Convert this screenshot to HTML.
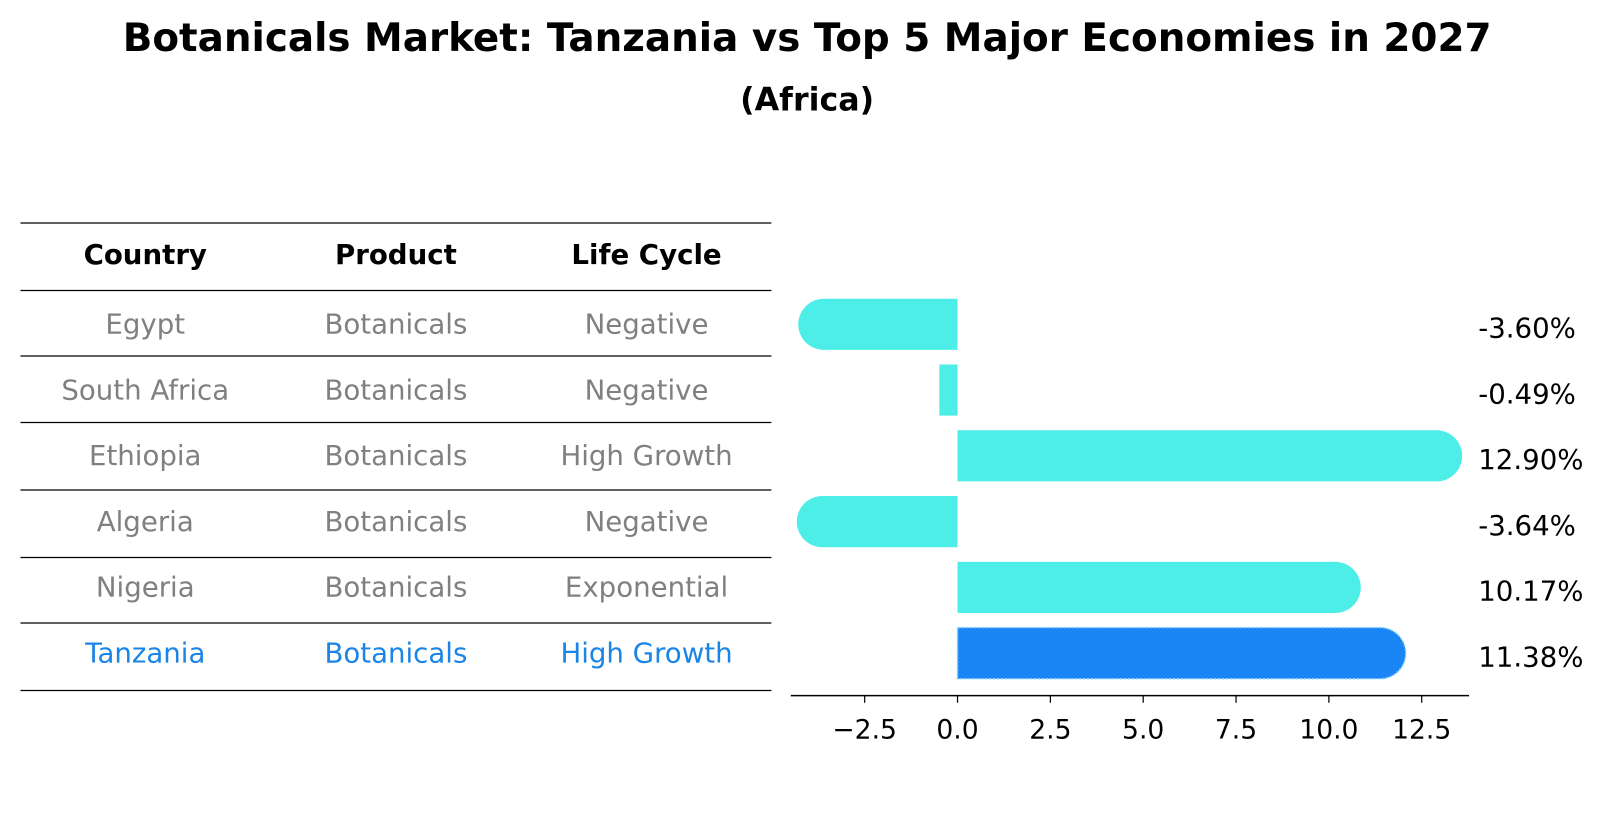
<!DOCTYPE html>
<html><head><meta charset="utf-8"><style>
body{margin:0;background:#fff;}
svg text{font-family:"DejaVu Sans","Liberation Sans",sans-serif;}
</style></head><body>
<svg id="chart" width="1604" height="823" viewBox="0 0 1604 823" xmlns="http://www.w3.org/2000/svg">
<g transform="scale(1.023)">
<text x="789" y="50" text-anchor="middle" font-size="38" font-weight="bold">Botanicals Market: Tanzania vs Top 5 Major Economies in 2027</text>
<text x="789" y="108" text-anchor="middle" font-size="31" font-weight="bold">(Africa)</text>
<g id="table"></g>
<g id="bars"></g>
</g>
</svg>
<script>
const countries=["Egypt","South Africa","Ethiopia","Algeria","Nigeria","Tanzania"];
const products=["Botanicals","Botanicals","Botanicals","Botanicals","Botanicals","Botanicals"];
const lifeCycles=["Negative","Negative","High Growth","Negative","Exponential","High Growth"];
const values=[-3.60,-0.49,12.90,-3.64,10.17,11.38];
const valueLabels=["-3.60%","-0.49%","12.90%","-3.64%","10.17%","11.38%"];
const ticks=[-2.5,0.0,2.5,5.0,7.5,10.0,12.5];
const tickLabels=["\u22122.5","0.0","2.5","5.0","7.5","10.0","12.5"];

const NS="http://www.w3.org/2000/svg";
function mk(tag,attrs,parent,text){const e=document.createElementNS(NS,tag);for(const k in attrs)e.setAttribute(k,attrs[k]);if(text!==undefined)e.textContent=text;parent.appendChild(e);return e;}
const xs=v=>936+v*36.3;
const rowY=i=>317+i*64.3;

const tbl=document.getElementById('table');
const lineYs=[218,284,348,413,479,545,609,675];
lineYs.forEach((y,i)=>{const l=mk('line',{x1:20,x2:754,y1:y,y2:y,stroke:'#000','stroke-width':1.2},tbl);

});
const cols=[142,387,632];
["Country","Product","Life Cycle"].forEach((h,j)=>{const t=mk('text',{x:cols[j],y:258,'text-anchor':'middle','font-size':27,'font-weight':'bold'},tbl,h);

});
countries.forEach((c,i)=>{const col=i===countries.length-1?'#1a85e6':'#808080';
[c,products[i],lifeCycles[i]].forEach((s,j)=>{const t=mk('text',{x:cols[j],y:rowY(i)+9,'text-anchor':'middle','font-size':27,fill:col},tbl,s);

});});

const g=document.getElementById('bars');
const h=50,r=25;
values.forEach((v,i)=>{const y0=rowY(i)-h/2;const x0=xs(0),x1=xs(v);const last=i===values.length-1;
const fill=last?'#1a85f5':'#4deee8';let d;
const w=Math.abs(x1-x0);
if(w>r){const dir=v>=0?1:-1;const xe=x1;
 d=`M${x0},${y0} L${xe},${y0} A${r},${r} 0 0 ${dir>0?1:0} ${xe},${y0+h} L${x0},${y0+h} Z`;}
else d=`M${x0},${y0} L${x1},${y0} L${x1},${y0+h} L${x0},${y0+h} Z`;
const p=mk('path',{d:d,fill:fill},g);
if(last){p.setAttribute('stroke','#7fd0ff');p.setAttribute('stroke-width',1.5);p.setAttribute('stroke-dasharray','2,2');}


const t=mk('text',{x:1445,y:rowY(i)+13,'font-size':27},g,valueLabels[i]);

});

const ax=mk('line',{x1:773,x2:1436,y1:680,y2:680,stroke:'#000','stroke-width':1.5},g);


ticks.forEach((tv,i)=>{const tk=mk('line',{x1:xs(tv),x2:xs(tv),y1:680,y2:687,stroke:'#000','stroke-width':1.2},g);


const t=mk('text',{x:xs(tv),y:722,'text-anchor':'middle','font-size':26},g,tickLabels[i]);

});
</script>
</body></html>
